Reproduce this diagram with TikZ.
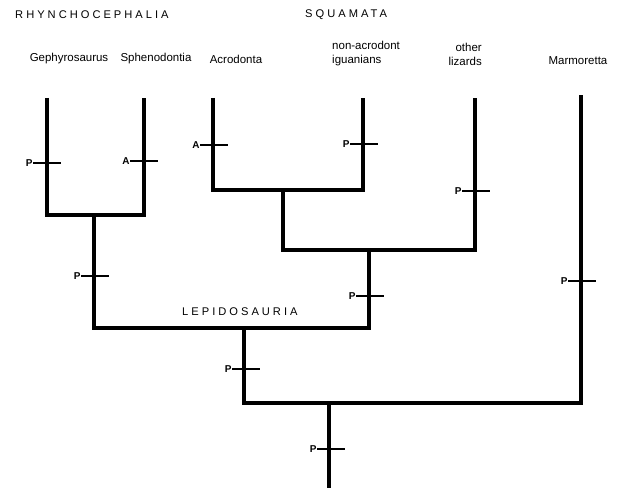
\documentclass[tikz,border=0pt]{standalone}
\usepackage{fontspec}
\setmainfont{Liberation Sans}
\newfontfamily\spacedcaps[LetterSpace=27]{Liberation Sans}
\usetikzlibrary{positioning}

\begin{document}
\begin{tikzpicture}[x=0.03cm,y=-0.03cm]
  \tikzstyle{branch}=[line width=3.8pt,line join=miter]
  \tikzstyle{taxon}=[font=\fontsize{9.8}{12}\selectfont,inner sep=0pt]
  \tikzstyle{clade}=[font=\spacedcaps\fontsize{9.5}{11}\selectfont,inner sep=0pt]
  \tikzstyle{charlab}=[font=\fontsize{8.5}{9}\selectfont\bfseries,inner sep=0pt]
  \tikzstyle{tick}=[fill=black,inner sep=0pt,minimum width=0.84cm,minimum height=1.3pt,label distance=0.12cm]
  \useasboundingbox (0,0) rectangle (619,488);
  % clade names
  \node[clade,anchor=west] (rhyname) at (15,15) {RHYNCHOCEPHALIA};
  \node[clade,anchor=west] (squname) at (305,15) {SQUAMATA};
  \node[clade,anchor=west] (lepname) at (182,312) {LEPIDOSAURIA};
  % terminal taxa
  \node[taxon] (tgep) at (69,59) {Gephyrosaurus};
  \node[taxon] (tsph) at (156,59) {Sphenodontia};
  \node[taxon] (tacr) at (236,59) {Acrodonta};
  \node[taxon,align=left,anchor=west] (tigu) at (332,54) {non-acrodont\\iguanians};
  \node[taxon,align=right,anchor=east] (tliz) at (482,54) {other\\lizards};
  \node[taxon] (tmar) at (578,61) {Marmoretta};
  % tree
  \coordinate (gep) at (47,98);
  \coordinate (sph) at (144,98);
  \coordinate (acr) at (213,98);
  \coordinate (igu) at (363,98);
  \coordinate (liz) at (475,98);
  \coordinate (mar) at (581,95);
  \coordinate (rhy) at (94,215);
  \coordinate (tox) at (283,190);
  \coordinate (sqm) at (369,250);
  \coordinate (lep) at (244,328);
  \coordinate (lpm) at (329,403);
  \coordinate (base) at (329,488);
  \draw[branch] (gep) |- (rhy) -| (sph);
  \draw[branch] (acr) |- (tox) -| (igu);
  \draw[branch] (tox) |- (sqm) -| (liz);
  \draw[branch] (rhy) |- (lep) -| (sqm);
  \draw[branch] (lep) |- (lpm) -| (mar);
  \draw[branch] (lpm) -- (base);
  % character changes
  \node[tick,label={[charlab]left:P}] (k1) at (47,163) {};
  \node[tick,label={[charlab]left:A}] (k2) at (144,161) {};
  \node[tick,label={[charlab]left:A}] (k3) at (214,145) {};
  \node[tick,label={[charlab]left:P}] (k4) at (364,144) {};
  \node[tick,label={[charlab]left:P}] (k5) at (476,191) {};
  \node[tick,label={[charlab]left:P}] (k6) at (95,276) {};
  \node[tick,label={[charlab]left:P}] (k7) at (370,296) {};
  \node[tick,label={[charlab]left:P}] (k8) at (246,369) {};
  \node[tick,label={[charlab]left:P}] (k9) at (582,281) {};
  \node[tick,label={[charlab]left:P}] (k10) at (331,449) {};
\end{tikzpicture}
\end{document}
